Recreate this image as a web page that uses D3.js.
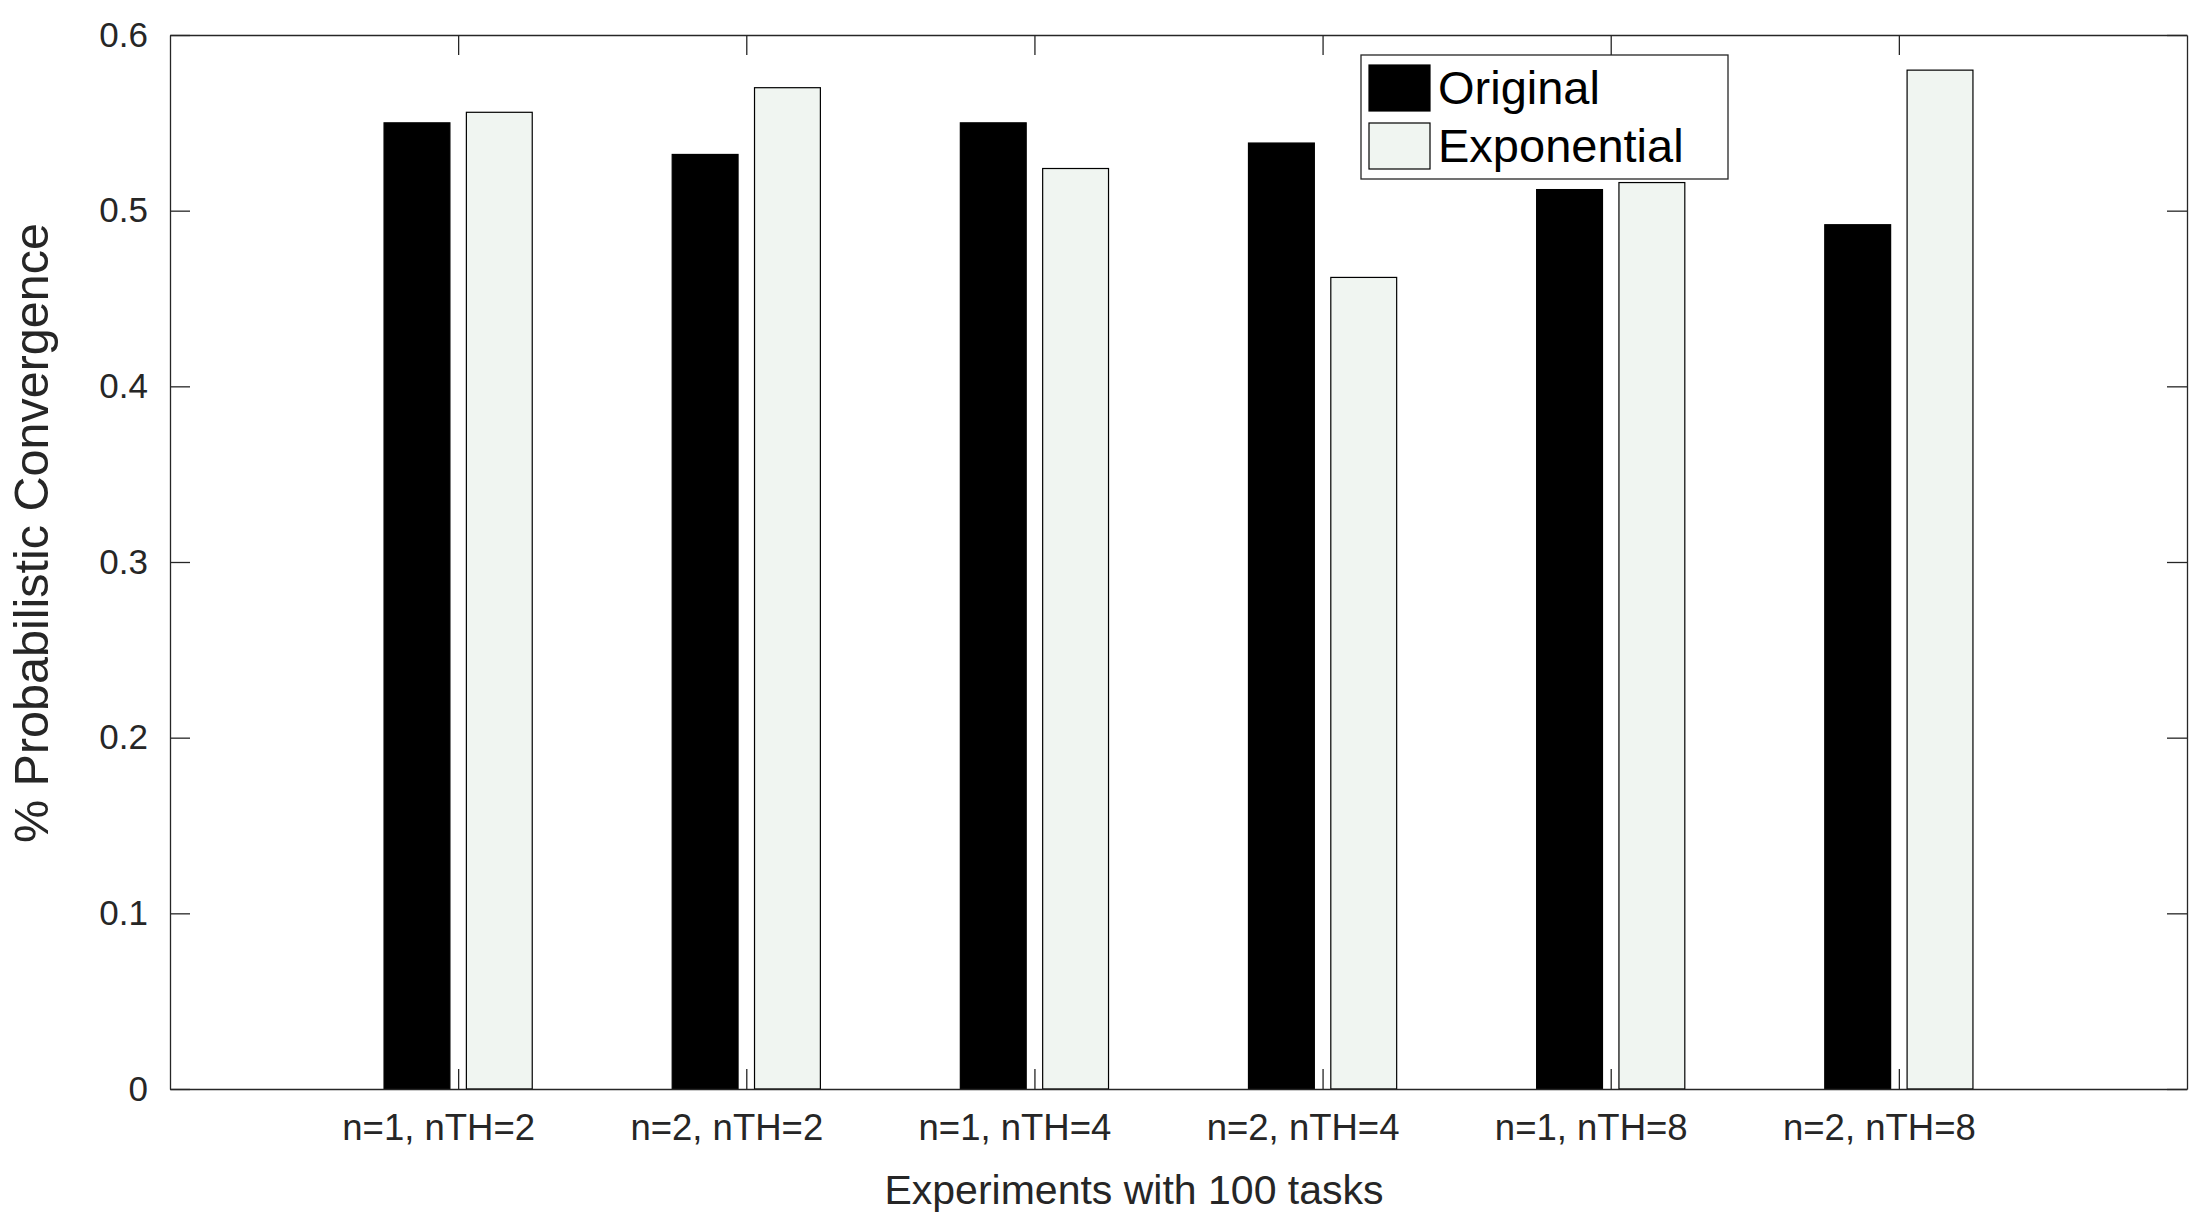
<!DOCTYPE html>
<html>
<head>
<meta charset="utf-8">
<script src="https://cdn.jsdelivr.net/npm/d3@7"></script>
<style>
  body { margin: 0; background: #fff; }
  text { font-family: "Liberation Sans", Arial, Helvetica, sans-serif; }
</style>
</head>
<body>
<script>
// values
const categories = ["n=1, nTH=2", "n=2, nTH=2", "n=1, nTH=4", "n=2, nTH=4", "n=1, nTH=8", "n=2, nTH=8"];
const original = [0.550, 0.532, 0.550, 0.5385, 0.512, 0.492];
const exponential = [0.556, 0.570, 0.524, 0.462, 0.516, 0.580];
const seriesNames = ["Original", "Exponential"];
const seriesColors = ["#000000", "#f0f5f1"];
const yTicks = [0, 0.1, 0.2, 0.3, 0.4, 0.5, 0.6];
const yTickLabels = ["0", "0.1", "0.2", "0.3", "0.4", "0.5", "0.6"];

var W = 2204, H = 1226;
var margin = { top: 35, right: 17, bottom: 137, left: 170 },
  width = W - margin.left - margin.right,
  height = H - margin.top - margin.bottom;

var svg = d3.select("body").append("svg")
  .attr("width", W)
  .attr("height", H)
  .style("background-color", "#fff");

var g = svg.append("g")
  .attr("transform", "translate(" + margin.left + "," + margin.top + ")");

/* matlab style: groups sit at 1..6, xlim 0..7 */
var x = d3.scaleLinear().domain([0, categories.length + 1]).range([0, width]);
var y = d3.scaleLinear().domain([0, 0.6]).range([height, 0]);

var groupWidth = 2 / 3.5;          // min(0.8, n/(n+1.5))
var barW = groupWidth / 2 * 0.8;
var offsets = [-groupWidth / 4, groupWidth / 4];
var series = [original, exponential];

series.forEach(function (vals, s) {
  g.selectAll(".bar" + s)
    .data(vals)
    .enter()
    .append("rect")
    .attr("class", "bar" + s)
    .attr("x", (d, i) => x(i + 1 + offsets[s] - barW / 2))
    .attr("width", (d, i) => x(barW) - x(0))
    .attr("y", (d) => y(d))
    .attr("height", (d) => y(0) - y(d))
    .attr("fill", seriesColors[s])
    .attr("stroke", "#000")
    .attr("stroke-width", 1.2);
});

// axes, ticks pointing inward on all four sides
var tickIdx = d3.range(1, categories.length + 1);

var xBottom = d3.axisBottom(x).tickValues(tickIdx)
  .tickFormat((d) => categories[d - 1])
  .tickSizeInner(-20).tickSizeOuter(0).tickPadding(25);
var xTop = d3.axisTop(x).tickValues(tickIdx)
  .tickFormat("").tickSizeInner(-20).tickSizeOuter(0);
var yLeft = d3.axisLeft(y).tickValues(yTicks)
  .tickFormat((d, i) => yTickLabels[i])
  .tickSizeInner(-20).tickSizeOuter(0).tickPadding(22);
var yRight = d3.axisRight(y).tickValues(yTicks)
  .tickFormat("").tickSizeInner(-20).tickSizeOuter(0);

var gx = g.append("g").attr("transform", "translate(0," + height + ")").call(xBottom);
g.append("g").call(xTop);
var gy = g.append("g").call(yLeft);
g.append("g").attr("transform", "translate(" + width + ",0)").call(yRight);

g.selectAll(".domain, .tick line")
  .attr("stroke", "#262626")
  .attr("stroke-width", 1.3);
gy.selectAll(".tick text")
  .attr("fill", "#262626")
  .style("font-size", "35px");
// the category labels sit a little left of the group centre in the original
gx.selectAll(".tick text")
  .attr("fill", "#262626")
  .attr("x", -20)
  .style("font-size", "36.5px");

// axis titles
svg.append("text")
  .attr("x", 1134)
  .attr("y", 1204)
  .attr("text-anchor", "middle")
  .attr("fill", "#262626")
  .style("font-size", "41px")
  .text("Experiments with 100 tasks");

svg.append("text")
  .attr("transform", "translate(48,533) rotate(-90)")
  .attr("text-anchor", "middle")
  .attr("fill", "#262626")
  .style("font-size", "48.5px")
  .text("% Probabilistic Convergence");

// legend
var leg = svg.append("g").attr("transform", "translate(1361,55)");
leg.append("rect")
  .attr("width", 367).attr("height", 124)
  .attr("fill", "#fff")
  .attr("stroke", "#262626")
  .attr("stroke-width", 1.3);

var items = leg.selectAll(".item")
  .data(seriesNames)
  .enter()
  .append("g")
  .attr("class", "item")
  .attr("transform", (d, i) => "translate(8," + (10 + i * 58) + ")");

items.append("rect")
  .attr("width", 61).attr("height", 46)
  .attr("fill", (d, i) => seriesColors[i])
  .attr("stroke", "#000")
  .attr("stroke-width", 1.2);

items.append("text")
  .attr("x", 69)
  .attr("y", 39)
  .attr("fill", "#000")
  .style("font-size", "47px")
  .text((d) => d);
</script>
</body>
</html>
